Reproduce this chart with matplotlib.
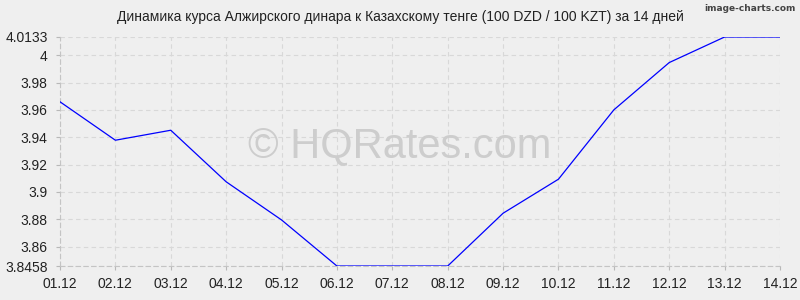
import matplotlib.pyplot as plt

dates = ["01.12", "02.12", "03.12", "04.12", "05.12", "06.12", "07.12",
         "08.12", "09.12", "10.12", "11.12", "12.12", "13.12", "14.12"]
rates = [3.9659, 3.9378, 3.9451, 3.9074, 3.8795, 3.8458, 3.8458,
         3.8458, 3.8844, 3.9093, 3.9600, 3.9946, 4.0133, 4.0133]
y_ticks = [3.8458, 3.86, 3.88, 3.9, 3.92, 3.94, 3.96, 3.98, 4.0, 4.0133]
y_labels = ["3.8458", "3.86", "3.88", "3.9", "3.92", "3.94", "3.96", "3.98", "4", "4.0133"]

plt.rcParams["font.family"] = ["Liberation Sans", "DejaVu Sans"]
bg = "#efefef"

fig = plt.figure(figsize=(8, 3), dpi=100, facecolor=bg)
ax = fig.add_axes([0.075, 0.1133, 0.9, 0.7634], facecolor=bg)

x = list(range(len(dates)))
ax.plot(x, rates, color="#0000ff", linewidth=0.9, zorder=3)

ax.set_xlim(0, len(dates) - 1)
ax.set_ylim(y_ticks[0], y_ticks[-1])
ax.set_xticks(x)
ax.set_xticklabels(dates)
ax.set_yticks(y_ticks)
ax.set_yticklabels(y_labels)

ax.grid(True, color="#d8d8d8", linestyle=(0, (4, 3)), linewidth=0.8)
for side in ["top", "right"]:
    ax.spines[side].set_visible(False)
for side in ["left", "bottom"]:
    ax.spines[side].set_color("#c4c4c4")
    ax.spines[side].set_linestyle((0, (4, 3)))
    ax.spines[side].set_linewidth(0.8)
ax.tick_params(axis="both", colors="#b8b8b8", labelcolor="#222222",
               labelsize=10, length=3, width=0.8)
ax.tick_params(axis="x", pad=5)
ax.tick_params(axis="y", pad=6)

fig.text(0.5, 0.943, "Динамика курса Алжирского динара к Казахскому тенге (100 DZD / 100 KZT) за 14 дней",
         ha="center", va="center", fontsize=10, color="#222222")
fig.text(0.994, 0.972, "image-charts.com", ha="right", va="center",
         fontsize=6.5, color="#444444", family="DejaVu Sans Condensed", weight="bold")
fig.text(0.5, 0.513, "© HQRates.com", ha="center", va="center",
         fontsize=30, color="#cdcdcd", zorder=0)

fig.savefig("out.png", dpi=100, facecolor=bg)
